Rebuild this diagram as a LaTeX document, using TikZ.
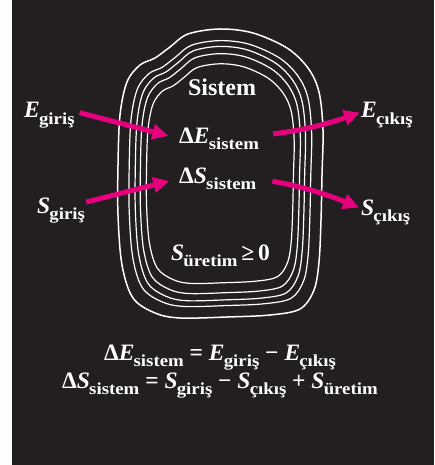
\documentclass[tikz,border=0pt]{standalone}
\usepackage{fontspec}
\setmainfont{Liberation Serif}
\newfontfamily\subfont[FakeStretch=1.12]{Liberation Serif}
\usetikzlibrary{arrows.meta}
\definecolor{bg}{RGB}{35,31,32}
\definecolor{mag}{RGB}{230,0,126}
\newcommand{\subs}[1]{\kern-0.8pt\raisebox{-6.5pt}{\fontsize{16.8}{17}\subfont\bfseries #1}}
\newcommand{\blobpath}{plot[smooth cycle, tension=0.55] coordinates {(220,29) (253,33) (287,48) (308,68) (319,92) (323,130) (322,175) (321,220) (319,262) (314,290) (300,309) (270,315) (227,317) (180,318) (155,313) (133,298) (122,265) (118,215) (118,165) (120,115) (127,82) (140,65) (155,58) (170,47) (188,34)}}
\tikzset{
  lbl/.style={text=white, inner sep=0pt, font=\fontsize{23.5}{25}\selectfont\bfseries},
  arr/.style={draw=mag, line width=5pt, -{Triangle[length=16pt,width=15pt]}},
  contour/.style={draw=white, line width=1.2pt}
}
\begin{document}
\begin{tikzpicture}[x=1pt,y=-1pt]
\fill[white] (0,0) rectangle (434,465);
\fill[bg] (11.5,0) rectangle (434,465);
\useasboundingbox (0,0) rectangle (434,465);
% contours
\draw[contour, line width=1.5pt] \blobpath;
\foreach \sx/\sy in {0.89/0.92, 0.83/0.88, 0.78/0.83, 0.72/0.76}{
  \begin{scope}[shift={(220,174)}, xscale=\sx, yscale=\sy, shift={(-220,-174)}]
    \draw[contour] \blobpath;
  \end{scope}
}
% labels
\node[lbl, anchor=base, font=\fontsize{24}{26}\selectfont\bfseries] (sys) at (222,96) {Sistem};
\node[lbl, anchor=base west] (dE) at (179,143) {Δ\textit{E}\subs{sistem}};
\node[lbl, anchor=base west] (dS) at (179,183) {Δ\textit{S}\subs{sistem}};
\node[lbl, anchor=base west] (Sgen) at (171,260) {\textit{S}\subs{üretim}\,≥\,0};
\node[lbl, anchor=base west] (Ein) at (24,118) {\textit{E}\subs{giriş}};
\node[lbl, anchor=base west] (Sin) at (37,213) {\textit{S}\subs{giriş}};
\node[lbl, anchor=base west] (Eout) at (361,118) {\textit{E}\subs{çıkış}};
\node[lbl, anchor=base west] (Sout) at (361,215) {\textit{S}\subs{çıkış}};
\node[lbl, anchor=base] (eq1) at (220,360) {Δ\textit{E}\subs{sistem} = \textit{E}\subs{giriş} − \textit{E}\subs{çıkış}};
\node[lbl, anchor=base] (eq2) at (220,388) {Δ\textit{S}\subs{sistem} = \textit{S}\subs{giriş} − \textit{S}\subs{çıkış} + \textit{S}\subs{üretim}};
% arrows
\draw[arr, shorten <=5pt, shorten >=11pt] ([yshift=4pt]Ein.east) -- (dE.west);
\draw[arr, shorten <=1pt, shorten >=10pt] ([yshift=8pt]Sin.east) -- (dS.west);
\draw[arr, shorten <=14pt, shorten >=1pt] ([yshift=3pt]dE.east) to[bend right=6] ([yshift=3pt]Eout.west);
\draw[arr, shorten <=16pt, shorten >=2pt] (dS.east) to[bend left=6] ([yshift=4pt]Sout.west);
\end{tikzpicture}
\end{document}
